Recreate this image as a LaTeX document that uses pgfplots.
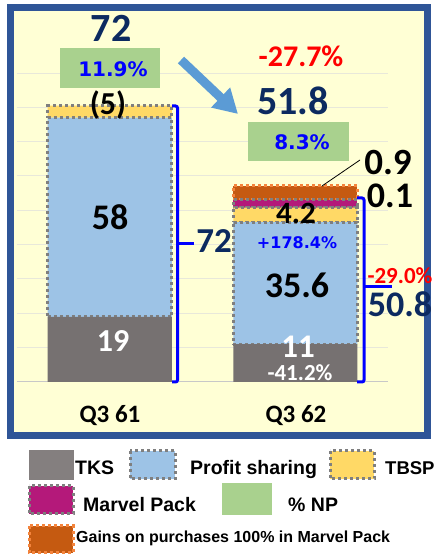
\documentclass[border=0pt]{standalone}
\usepackage{pgfplots}
\pgfplotsset{compat=1.18}
\usepackage{fontspec}
\setmainfont{Carlito}
\newfontfamily\arialf{Liberation Sans}
\newfontfamily\verdf{DejaVu Sans}
\usetikzlibrary{arrows.meta}

\definecolor{framec}{HTML}{2F5597}
\definecolor{cream}{HTML}{FFFFD5}
\definecolor{gridc}{HTML}{E8E8DA}
\definecolor{basec}{HTML}{C8C8C8}
\definecolor{tks}{HTML}{767171}
\definecolor{psc}{HTML}{9DC3E6}
\definecolor{tbsp}{HTML}{FFD966}
\definecolor{marvel}{HTML}{B4197A}
\definecolor{gains}{HTML}{C55A11}
\definecolor{gainsb}{HTML}{F4843C}
\definecolor{npc}{HTML}{A9D18E}
\definecolor{navy}{HTML}{0C2A60}
\definecolor{arrowc}{HTML}{5B9BD5}
\definecolor{dotc}{HTML}{7F7F7F}

\newcommand{\fs}[1]{\fontsize{#1}{#1}\selectfont}

\tikzset{
  px/.style={x=1pt,y=-1pt,yshift=556pt},
  dotb/.style={draw=dotc, line width=3pt, dash pattern=on 3pt off 3pt},
  dotorange/.style={draw=gainsb, line width=3pt, dash pattern=on 3pt off 3pt},
  brk/.style={draw=blue, line width=3pt, rounded corners=2pt},
}

\begin{document}
\begin{tikzpicture}
\path[use as bounding box] (0,0) rectangle (436pt,556pt);

% background frame
\begin{scope}[px]
  \fill[white] (0,0) rectangle (436,556);
  \draw[line width=7pt, draw=framec, fill=cream] (10.5,7.5) rectangle (427.5,436);
\end{scope}

\begin{axis}[
  at={(17pt,174pt)}, anchor=south west,
  scale only axis, width=371pt, height=309pt,
  xmin=0, xmax=2, ymin=0, ymax=90,
  ybar stacked, bar width=124pt,
  axis line style={draw=none},
  xtick=\empty,
  ytick={10,20,...,90}, yticklabels={},
  major tick length=0pt,
  ymajorgrids, grid style={draw=gridc, line width=1pt},
  extra y ticks={0}, extra y tick labels={},
  extra y tick style={grid style={draw=basec, line width=1pt}},
  clip=false,
]
\addplot[fill=tks, draw=none] coordinates {(1.5,11) (0.5,19)};
\addplot[fill=psc, dotb] coordinates {(1.5,35.6) (0.5,58)};
\addplot[fill=tbsp, dotb] coordinates {(1.5,4.2) (0.5,3.5)};
\addplot[fill=marvel, dotb] coordinates {(1.5,2.3)};
\addplot[fill=gains, dotorange] coordinates {(1.5,4)};
\end{axis}

\begin{scope}[px]
  % Q3 61 annotations
  \node[anchor=base, text=navy, font=\fs{40}\bfseries] at (111,42) {72};
  \fill[npc] (60,48) rectangle (160,88);
  \node[anchor=base, text=blue, font=\verdf\fs{20}\bfseries] at (113,77) {11.9\%};
  \node[anchor=base, font=\fs{32}\bfseries] at (108,115) {(5)};
  \node[anchor=base, font=\fs{36}\bfseries] at (110,230) {58};
  \node[anchor=base, text=white, font=\fs{32}\bfseries] at (113,352) {19};

  % bracket 1
  \draw[brk] (172,106) -- (177.5,106) -- (177.5,382) -- (172,382);
  \draw[draw=blue, line width=3pt] (177.5,244) -- (194,244);
  \node[anchor=base, text=navy, font=\fs{35}\bfseries] at (214,253) {72};

  % arrow
  \draw[arrowc, line width=9pt, -{Triangle[length=24pt,width=26pt]}] (181,60) -- (238,114);

  % Q3 62 annotations
  \node[anchor=base, text=red, font=\fs{30}\bfseries] at (301,67) {-27.7\%};
  \node[anchor=base, text=navy, font=\fs{40}\bfseries] at (293,115) {51.8};
  \fill[npc] (248,122) rectangle (349,161);
  \node[anchor=base, text=blue, font=\verdf\fs{20}\bfseries] at (302,150) {8.3\%};
  \draw[black, line width=0.8pt] (322,186) -- (360,160);
  \node[anchor=base, font=\fs{37}\bfseries] at (388,175) {0.9};
  \node[anchor=base, font=\fs{36}\bfseries] at (390,208) {0.1};
  \node[anchor=base, font=\fs{31}\bfseries] at (296,224) {4.2};
  \node[anchor=base, text=blue, font=\verdf\fs{16}\bfseries] at (297,249) {+178.4\%};
  \node[anchor=base, font=\fs{36}\bfseries] at (297,298) {35.6};
  \node[anchor=base, text=white, font=\fs{33}\bfseries] at (298,358) {11};
  \node[anchor=base, text=white, font=\fs{23}\bfseries] at (300,381) {-41.2\%};

  % bracket 2
  \draw[brk] (357,198) -- (364,198) -- (364,382) -- (357,382);
  \draw[draw=blue, line width=3pt] (364,287) -- (392,287);
  \node[anchor=base, text=red, font=\fs{23}\bfseries] at (400,284) {-29.0\%};
  \node[anchor=base, text=navy, font=\fs{36}\bfseries] at (400,317) {50.8};

  % category labels
  \node[anchor=base, font=\fs{25}\bfseries] at (110,423) {Q3 61};
  \node[anchor=base, font=\fs{25}\bfseries] at (296,423) {Q3 62};

  % legend
  \fill[tks!90!white] (29,450) rectangle (74,480);
  \node[anchor=base west, inner sep=0pt, font=\arialf\fs{19.5}\bfseries] at (75,475) {TKS};
  \filldraw[fill=psc, dotb] (130,451) rectangle (175,479);
  \node[anchor=base west, inner sep=0pt, font=\arialf\fs{19.5}\bfseries] at (190,475) {Profit sharing};
  \filldraw[fill=tbsp, dotb] (330,451) rectangle (374,479);
  \node[anchor=base west, inner sep=0pt, font=\arialf\fs{18.5}\bfseries] at (385,475) {TBSP};
  \filldraw[fill=marvel, dotb] (29,486) rectangle (73,514);
  \node[anchor=base west, inner sep=0pt, font=\arialf\fs{19.5}\bfseries] at (83,512) {Marvel Pack};
  \fill[npc] (222,483) rectangle (272,515);
  \node[anchor=base west, inner sep=0pt, font=\arialf\fs{19.5}\bfseries] at (288,512) {\% NP};
  \filldraw[fill=gains, dotorange] (29,526) rectangle (73,553);
  \node[anchor=base west, inner sep=0pt, font=\arialf\fs{16}\bfseries] at (76,543) {Gains on purchases 100\% in Marvel Pack};
\end{scope}
\end{tikzpicture}
\end{document}
